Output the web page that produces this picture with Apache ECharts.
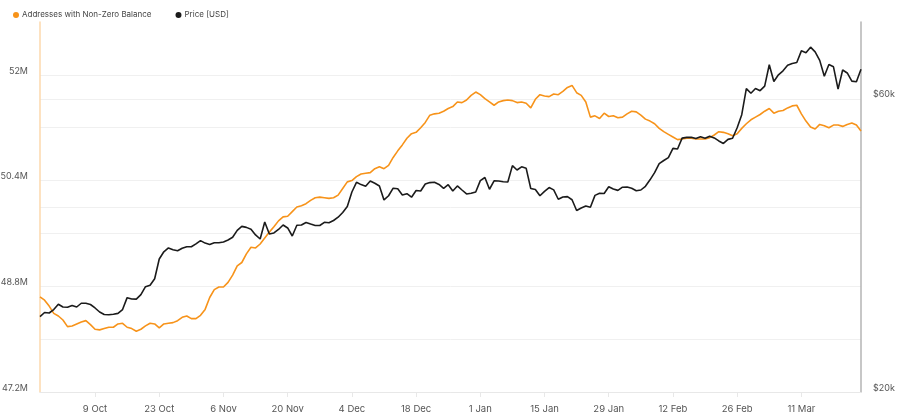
<!DOCTYPE html>
<html>
<head>
<meta charset="utf-8">
<script src="https://cdn.jsdelivr.net/npm/echarts@6/dist/echarts.min.js"></script>
<style>
html,body{margin:0;padding:0;background:#fff;}
#chart{width:900px;height:420px;}
</style>
</head>
<body>
<div id="chart"></div>
<script>
// Daily dates: 27 Sep 2023 .. 24 Mar 2024 (180 days)
const startDate = '2023-09-27';
const dayCount = 180;
const monthNames = ['Jan','Feb','Mar','Apr','May','Jun','Jul','Aug','Sep','Oct','Nov','Dec'];

// Addresses with Non-Zero Balance (millions)
const addressesM = [
48.64,48.59,48.50,48.39,48.35,48.29,48.19,48.20,48.23,48.26,
48.28,48.22,48.15,48.14,48.16,48.18,48.18,48.23,48.24,48.18,
48.16,48.12,48.15,48.20,48.24,48.23,48.17,48.23,48.24,48.25,
48.28,48.33,48.35,48.31,48.31,48.36,48.45,48.63,48.75,48.79,
48.79,48.86,48.97,49.11,49.16,49.29,49.39,49.38,49.44,49.53,
49.62,49.70,49.79,49.85,49.86,49.93,50.00,50.02,50.05,50.10,
50.14,50.15,50.14,50.13,50.14,50.18,50.28,50.38,50.40,50.46,
50.50,50.51,50.52,50.58,50.61,50.58,50.63,50.75,50.85,50.94,
51.04,51.11,51.13,51.20,51.28,51.39,51.41,51.42,51.45,51.49,
51.52,51.59,51.58,51.62,51.69,51.74,51.70,51.64,51.59,51.54,
51.59,51.61,51.62,51.61,51.58,51.59,51.57,51.50,51.63,51.70,
51.68,51.67,51.71,51.70,51.75,51.81,51.84,51.73,51.69,51.59,
51.36,51.38,51.34,51.42,51.37,51.38,51.35,51.36,51.41,51.45,
51.44,51.39,51.33,51.30,51.26,51.19,51.14,51.10,51.06,51.02,
51.03,51.04,51.04,51.03,51.03,51.03,51.05,51.09,51.14,51.13,
51.11,51.08,51.11,51.19,51.26,51.32,51.36,51.40,51.45,51.49,
51.42,51.45,51.46,51.50,51.53,51.54,51.41,51.30,51.21,51.18,
51.25,51.23,51.20,51.24,51.24,51.22,51.25,51.27,51.24,51.15
];

// Price [USD] (thousands)
const priceK = [
26.52,26.94,26.89,27.24,27.79,27.50,27.47,27.66,27.50,27.89,
27.89,27.76,27.40,26.99,26.74,26.71,26.77,26.85,27.24,28.48,
28.34,28.32,28.81,29.68,29.83,30.57,32.92,33.82,34.31,34.09,
33.96,34.27,34.47,34.47,34.83,35.27,34.94,34.76,34.99,34.99,
35.09,35.35,35.71,36.65,37.20,37.06,36.81,36.02,35.48,37.82,
36.15,36.29,36.77,37.39,36.98,35.88,37.35,37.39,37.75,37.53,
37.32,37.32,37.77,37.70,38.03,38.50,39.19,40.08,42.31,43.88,
43.50,43.24,44.09,43.72,43.28,41.07,41.72,42.92,42.83,41.84,
42.05,41.50,42.55,42.47,43.60,43.83,43.88,43.52,42.91,43.49,
42.47,43.28,42.63,42.00,42.11,42.31,44.16,44.68,42.75,44.13,
44.09,43.98,43.93,46.71,45.95,46.50,46.24,42.87,42.72,41.72,
42.41,43.02,42.65,41.18,41.53,41.58,41.10,39.48,39.85,40.14,
39.96,41.78,42.11,42.08,43.15,42.79,42.57,43.08,43.11,42.92,
42.52,42.63,43.23,44.29,45.49,47.05,47.61,48.14,49.83,49.71,
51.77,51.92,51.96,51.69,52.04,51.75,52.16,51.82,51.23,50.75,
51.53,51.75,53.82,56.53,62.34,61.27,62.36,61.85,62.90,68.16,
64.02,65.64,66.63,68.02,68.49,68.74,71.80,71.32,72.80,71.53,
69.29,65.30,68.21,67.64,62.22,66.84,66.09,64.11,63.95,67.04
];

// Axis ticks
const leftMin = 47.2e6, leftMax = 52.8e6, leftStep = 0.8e6;
const rightMin = 20000, rightMax = 80000;
const rightTicks = [20000, 40000, 60000, 80000];
const rightLabels = [20000, 60000];
const firstLabelIndex = 12, labelEvery = 14;

const seriesNames = ['Addresses with Non-Zero Balance', 'Price [USD]'];
const colors = ['#f7931a', '#1b1b1b'];

const dates = [];
const t0 = Date.parse(startDate + 'T00:00:00Z');
for (let i = 0; i < dayCount; i++) {
  const d = new Date(t0 + i * 86400000);
  dates.push(d.toISOString().slice(0, 10));
}
const fmtDate = s => { const d = new Date(s + 'T00:00:00Z'); return d.getUTCDate() + ' ' + monthNames[d.getUTCMonth()]; };
const showIdx = i => i >= firstLabelIndex && (i - firstLabelIndex) % labelEvery === 0;

const chart = echarts.init(document.getElementById('chart'), null, {renderer: 'canvas'});
const font = 'Inter';
chart.setOption({
  animation: false,
  backgroundColor: '#fff',
  textStyle: {fontFamily: font},
  color: colors,
  legend: {
    left: 13, top: 11, padding: 0,
    icon: 'circle', itemWidth: 6, itemHeight: 6, itemGap: 24,
    textStyle: {fontSize: 8, color: '#444', fontFamily: font, padding: [0, 0, 0, -2]},
    data: seriesNames
  },
  grid: {left: 40, right: 39, top: 22, bottom: 28, containLabel: false, outerBoundsMode: 'none'},
  xAxis: {
    type: 'category',
    data: dates,
    boundaryGap: false,
    axisLine: {show: true, lineStyle: {color: '#e8e8e8', width: 1}},
    axisTick: {show: true, interval: (i) => showIdx(i), length: 5, lineStyle: {color: '#e8e8e8'}},
    axisLabel: {interval: (i) => showIdx(i), formatter: fmtDate, color: '#555', fontSize: 9.5, margin: 12, fontFamily: font},
    splitLine: {show: false}
  },
  yAxis: [
    {
      type: 'value', position: 'left',
      min: leftMin, max: leftMax, interval: leftStep,
      axisLine: {show: true, lineStyle: {color: '#fcd9ad', width: 1.5}},
      axisTick: {show: false},
      axisLabel: {
        color: '#555', fontSize: 9, margin: 12, fontFamily: font,
        verticalAlign: 'bottom', lineHeight: 8,
        formatter: v => (Math.round(v / leftStep) % 2 === 1) ? (parseFloat((v / 1e6).toFixed(1)) + 'M') : ''
      },
      splitLine: {show: true, showMaxLine: false, lineStyle: {color: '#f0f0f0', width: 1}}
    },
    {
      type: 'log', position: 'right',
      min: rightMin, max: rightMax,
      axisLine: {show: true, lineStyle: {color: '#b4b4b4', width: 1.5}},
      axisTick: {show: false, customValues: rightTicks},
      axisLabel: {
        customValues: rightLabels,
        color: '#555', fontSize: 9, margin: 12, fontFamily: font,
        verticalAlign: 'bottom', lineHeight: 8,
        formatter: v => '$' + Math.round(v / 1000) + 'k'
      },
      splitLine: {show: true, showMaxLine: false, lineStyle: {color: '#f0f0f0', width: 1}}
    }
  ],
  series: [
    {
      name: seriesNames[0], type: 'line', yAxisIndex: 0,
      data: addressesM.map(v => Math.round(v * 1e6)),
      showSymbol: false, symbol: 'none',
      lineStyle: {width: 1.6, color: colors[0]},
      itemStyle: {color: colors[0]}, z: 2
    },
    {
      name: seriesNames[1], type: 'line', yAxisIndex: 1,
      data: priceK.map(v => Math.round(v * 1000)),
      showSymbol: false, symbol: 'none',
      lineStyle: {width: 1.6, color: colors[1]},
      itemStyle: {color: colors[1]}, z: 3
    }
  ]
});
</script>
</body>
</html>
